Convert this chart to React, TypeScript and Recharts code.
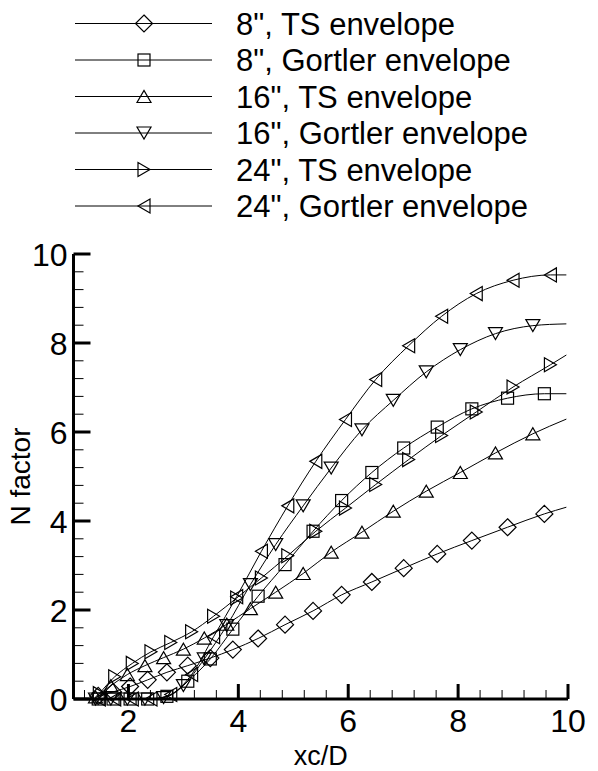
import React from 'react'
import { LineChart, Line, XAxis, YAxis, Legend, Label } from 'recharts'

// x stations (xc/D) where each case was sampled; last entry is the curve end
const x8 = [1.45, 1.72, 2.03, 2.35, 2.7, 3.08, 3.49, 3.9, 4.36, 4.85, 5.36, 5.88, 6.43, 7.01, 7.62, 8.25, 8.9, 9.57, 9.97]
const x16 = [1.4, 1.68, 1.98, 2.3, 2.64, 3.0, 3.38, 3.79, 4.22, 4.68, 5.18, 5.69, 6.25, 6.82, 7.42, 8.04, 8.68, 9.36, 9.97]
const x24 = [1.47, 1.75, 2.07, 2.41, 2.77, 3.15, 3.55, 3.97, 4.42, 4.9, 5.41, 5.95, 6.5, 7.1, 7.7, 8.33, 9.0, 9.68, 9.97]

// N factor envelopes
const ts8 = [0.07, 0.16, 0.28, 0.43, 0.6, 0.75, 0.92, 1.11, 1.36, 1.67, 1.98, 2.34, 2.63, 2.94, 3.26, 3.56, 3.86, 4.16, 4.31]
const gortler8 = [0, 0, 0, 0, 0.06, 0.4, 0.9, 1.57, 2.31, 3.02, 3.77, 4.46, 5.09, 5.64, 6.11, 6.52, 6.76, 6.86, 6.86]
const ts16 = [0.05, 0.3, 0.55, 0.75, 0.93, 1.12, 1.37, 1.68, 2.03, 2.4, 2.82, 3.3, 3.75, 4.22, 4.67, 5.09, 5.53, 5.96, 6.29]
const gortler16 = [0, 0, 0, 0, 0.03, 0.3, 0.9, 1.65, 2.57, 3.47, 4.34, 5.19, 6.05, 6.71, 7.35, 7.85, 8.21, 8.39, 8.43]
const ts24 = [0.12, 0.5, 0.8, 1.06, 1.27, 1.51, 1.86, 2.27, 2.72, 3.22, 3.77, 4.29, 4.82, 5.38, 5.92, 6.45, 7.01, 7.51, 7.73]
const gortler24 = [0, 0, 0, 0, 0.1, 0.55, 1.4, 2.3, 3.32, 4.34, 5.34, 6.28, 7.18, 7.94, 8.6, 9.11, 9.41, 9.53, 9.53]

const xMajor = [2, 4, 6, 8, 10]
const yMajor = [0, 2, 4, 6, 8, 10]
const FONT = '"Liberation Sans", Arial, sans-serif'

type Shape = 'diamond' | 'square' | 'up' | 'down' | 'right' | 'left'

const zip = (xs: number[], ys: number[]) => xs.map((x, i) => ({ x, y: ys[i] }))

const series: { name: string; shape: Shape; data: { x: number; y: number }[] }[] = [
  { name: '8", TS envelope', shape: 'diamond', data: zip(x8, ts8) },
  { name: '8", Gortler envelope', shape: 'square', data: zip(x8, gortler8) },
  { name: '16", TS envelope', shape: 'up', data: zip(x16, ts16) },
  { name: '16", Gortler envelope', shape: 'down', data: zip(x16, gortler16) },
  { name: '24", TS envelope', shape: 'right', data: zip(x24, ts24) },
  { name: '24", Gortler envelope', shape: 'left', data: zip(x24, gortler24) },
]

// minor ticks every 0.4 between majors
const withMinors = (from: number, to: number) => {
  const out: number[] = []
  for (let i = Math.round(from * 10); i <= Math.round(to * 10); i += 4) out.push(i / 10)
  return out
}
const xTicks = [1.2, 1.6, ...withMinors(2, 10)]
const yTicks = withMinors(0, 10)

const Marker = ({ shape, cx, cy }: { shape: Shape; cx: number; cy: number }) => {
  const common = { fill: 'none', stroke: '#000', strokeWidth: 1.2 }
  switch (shape) {
    case 'diamond':
      return <polygon {...common} points={`${cx},${cy - 8.5} ${cx + 8.5},${cy} ${cx},${cy + 8.5} ${cx - 8.5},${cy}`} />
    case 'square':
      return <rect {...common} x={cx - 6} y={cy - 6} width={12} height={12} />
    case 'up':
      return <polygon {...common} points={`${cx - 7},${cy + 6} ${cx + 7},${cy + 6} ${cx},${cy - 6}`} />
    case 'down':
      return <polygon {...common} points={`${cx - 7},${cy - 6} ${cx + 7},${cy - 6} ${cx},${cy + 6}`} />
    case 'right':
      return <polygon {...common} points={`${cx - 6},${cy - 7} ${cx - 6},${cy + 7} ${cx + 6},${cy}`} />
    default:
      return <polygon {...common} points={`${cx + 6},${cy - 7} ${cx + 6},${cy + 7} ${cx - 6},${cy}`} />
  }
}

const XTick = ({ x, y, payload }: any) => {
  const major = xMajor.includes(payload.value)
  return (
    <g>
      <line x1={x} x2={x} y1={y} y2={y - (major ? 15 : 9)} stroke="#000" strokeWidth={major ? 3 : 1} />
      {major && (
        <text x={x} y={y + 33} textAnchor="middle" fontSize={32} fontFamily={FONT} fill="#000">
          {payload.value}
        </text>
      )}
    </g>
  )
}

const YTick = ({ x, y, payload }: any) => {
  const major = yMajor.includes(payload.value)
  return (
    <g>
      <line x1={x} x2={x + (major ? 17 : 10)} y1={y} y2={y} stroke="#000" strokeWidth={major ? 3 : 1} />
      {major && (
        <text x={x - 6} y={y} dy="0.36em" textAnchor="end" fontSize={32} fontFamily={FONT} fill="#000">
          {payload.value}
        </text>
      )}
    </g>
  )
}

const LegendBox = () => (
  <svg width={598} height={225}>
    {series.map((s, i) => {
      const cy = 23.5 + i * 36.5
      return (
        <g key={s.name}>
          <line x1={75} x2={212} y1={cy} y2={cy} stroke="#000" strokeWidth={1} />
          <Marker shape={s.shape} cx={144} cy={cy} />
          <text x={236} y={cy} dy="0.36em" fontSize={31} fontFamily={FONT} fill="#000">
            {s.name}
          </text>
        </g>
      )
    })}
  </svg>
)

export default function App() {
  return (
    <div style={{ position: 'absolute', left: 0, top: 0, background: '#fff' }}>
      <LineChart width={598} height={771} margin={{ top: 254, right: 30, bottom: 0, left: 0 }}>
        <XAxis
          type="number"
          dataKey="x"
          domain={[1, 10]}
          ticks={xTicks}
          interval={0}
          height={72}
          tickSize={0}
          tickMargin={0}
          tickLine={false}
          axisLine={{ stroke: '#000', strokeWidth: 3 }}
          tick={<XTick />}
        >
          <Label
            content={({ viewBox }: any) => (
              <text x={viewBox.x + viewBox.width / 2} y={viewBox.y + 66} textAnchor="middle" fontSize={27} fontFamily={FONT}>
                xc/D
              </text>
            )}
          />
        </XAxis>
        <YAxis
          type="number"
          dataKey="y"
          domain={[0, 10]}
          ticks={yTicks}
          interval={0}
          width={73.5}
          tickSize={0}
          tickMargin={0}
          tickLine={false}
          axisLine={{ stroke: '#000', strokeWidth: 3 }}
          tick={<YTick />}
        >
          <Label
            content={({ viewBox }: any) => {
              const cx = 30
              const cy = viewBox.y + viewBox.height / 2
              return (
                <text x={cx} y={cy} transform={`rotate(-90 ${cx} ${cy})`} textAnchor="middle" fontSize={28} fontFamily={FONT}>
                  N factor
                </text>
              )
            }}
          />
        </YAxis>
        <Legend
          layout="horizontal"
          verticalAlign="middle"
          align="center"
          content={<LegendBox />}
          wrapperStyle={{ top: 0, left: 0, width: 598, height: 225 }}
        />
        {series.map((s) => (
          <Line
            key={s.name}
            name={s.name}
            data={s.data}
            dataKey="y"
            type="monotone"
            stroke="#000"
            strokeWidth={1}
            isAnimationActive={false}
            legendType="none"
            dot={(p: any) =>
              p.index === s.data.length - 1 ? (
                <g key={p.key} />
              ) : (
                <g key={p.key}>
                  <Marker shape={s.shape} cx={p.cx} cy={p.cy} />
                </g>
              )
            }
            activeDot={false}
          />
        ))}
      </LineChart>
    </div>
  )
}
